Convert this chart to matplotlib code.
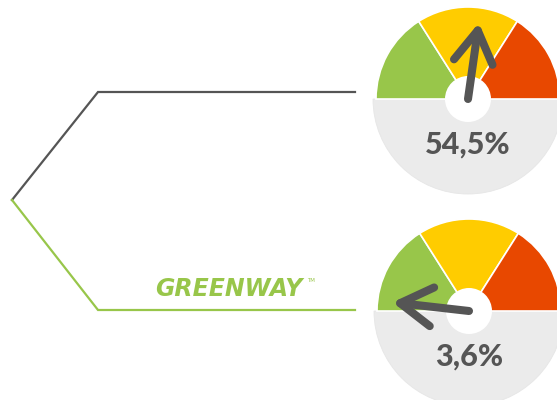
import numpy as np
import matplotlib.pyplot as plt
from matplotlib.patches import Wedge, Circle, FancyArrowPatch, ArrowStyle

# Valores de los indicadores (porcentaje)
values = [54.5, 3.6]
value_labels = ["54,5%", "3,6%"]
# Limites de las zonas del velocimetro (en %)
zone_edges = [0, 32, 68, 100]
zone_colors = ['#98C64A', '#FFCC00', '#E84800']
brand = "GREENWAY"

GRAY = '#555555'
GREEN = '#98C64A'

fig = plt.figure(figsize=(5.57, 4.0), dpi=100)
ax = fig.add_axes([0, 0, 1, 1])
ax.set_xlim(0, 557)
ax.set_ylim(0, 400)
ax.set_aspect('equal')
ax.axis('off')

# Lineas de conexion
ax.plot([12, 98, 355], [200, 308, 308], color=GRAY, lw=1.6, solid_joinstyle='miter')
ax.plot([12, 98, 355], [200, 90, 90], color=GREEN, lw=1.6, solid_joinstyle='miter')

# Logo
ax.text(155, 111, brand, color=GREEN, fontsize=17, fontweight='bold', style='italic',
        family='DejaVu Sans', ha='left', va='center')
ax.text(307, 120, "TM", color=GREEN, fontsize=4, ha='left', va='center')


def pct_to_angle(p):
    return 180 - 180 * p / 100.0


def gauge(cx, cy, value, label):
    ax.add_patch(Wedge((cx, cy), 95, 180, 360, facecolor='#EBEBEB', edgecolor='#E6E6E6', lw=0.6))
    for i in range(3):
        a1 = pct_to_angle(zone_edges[i + 1])
        a2 = pct_to_angle(zone_edges[i])
        ax.add_patch(Wedge((cx, cy), 92, a1, a2, facecolor=zone_colors[i],
                           edgecolor='white', lw=1.2))
    ax.add_patch(Circle((cx, cy), 23, facecolor='white', edgecolor='none'))
    ang = np.radians(pct_to_angle(value))
    tip = (cx + 77 * np.cos(ang), cy + 77 * np.sin(ang))
    arr = FancyArrowPatch((cx, cy), tip,
                          arrowstyle=ArrowStyle('->', head_length=23, head_width=14),
                          mutation_scale=1, lw=5.8, color=GRAY,
                          capstyle='round', joinstyle='round',
                          shrinkA=0, shrinkB=0)
    ax.add_patch(arr)
    ax.text(cx, cy - 46, label, ha='center', va='center', color=GRAY,
            fontsize=22, fontweight=900, family='Lato')


gauge(468, 301, values[0], value_labels[0])
gauge(469, 89, values[1], value_labels[1])

fig.savefig('out.png', dpi=100)
